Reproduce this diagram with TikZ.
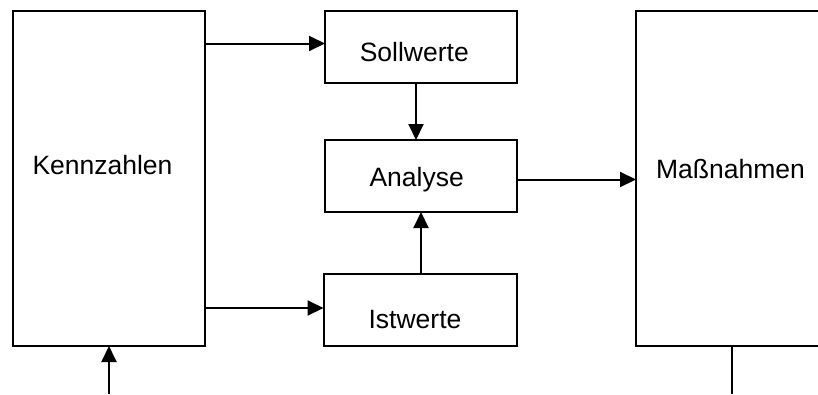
\documentclass[tikz,border=0pt]{standalone}
\usepackage{fontspec}
\setmainfont{Liberation Sans}
\usetikzlibrary{arrows.meta}
\begin{document}
\begin{tikzpicture}[x=1pt,y=-1pt,
  box/.style={draw=black,line width=2pt,inner sep=0pt,outer sep=0pt,fill=none},
  lbl/.style={anchor=base,inner sep=0pt,font=\fontsize{26.5}{31}\selectfont},
  arr/.style={line width=2pt,-{Triangle[length=16pt,width=15pt]}},
  ln/.style={line width=2pt}]
\clip (0,0) rectangle (818,394);
\fill[white] (0,0) rectangle (818,394);
% boxes
\node[box,minimum width=192pt,minimum height=335.5pt] (K) at (109,178.25) {};
\node[box,minimum width=192pt,minimum height=72.5pt] (S) at (421,46.75) {};
\node[box,minimum width=192pt,minimum height=72pt] (A) at (421,176) {};
\node[box,minimum width=193pt,minimum height=72pt] (I) at (420,310) {};
\node[box,minimum width=194pt,minimum height=335.5pt] (M) at (733,178.25) {};
% labels
\node[lbl] (tK) at (102.5,174.3) {Kennzahlen};
\node[lbl] (tS) at (414.3,61) {Sollwerte};
\node[lbl] (tA) at (416.7,186.7) {Analyse};
\node[lbl] (tI) at (415,328.3) {Istwerte};
\node[lbl] (tM) at (730.5,178.3) {Maßnahmen};
% connectors
\coordinate (sIn) at ([yshift=3.25pt]S.west);
\draw[arr] (K.east |- sIn) -- (sIn);
\coordinate (iIn) at ([yshift=2pt]I.west);
\draw[arr] (K.east |- iIn) -- (iIn);
\coordinate (sOut) at ([xshift=-5pt]S.south);
\draw[arr] (sOut) -- (A.north -| sOut);
\coordinate (iOut) at ([xshift=1pt]I.north);
\draw[arr] (iOut) -- (A.south -| iOut);
\coordinate (aOut) at ([yshift=-3.5pt]A.east);
\draw[arr] (aOut) -- (M.west |- aOut);
\coordinate (b1) at (109,394);
\draw[arr] (b1) -- (K.south);
\coordinate (b2) at (732,394);
\draw[ln] (M.south -| b2) -- (b2);
\end{tikzpicture}
\end{document}
